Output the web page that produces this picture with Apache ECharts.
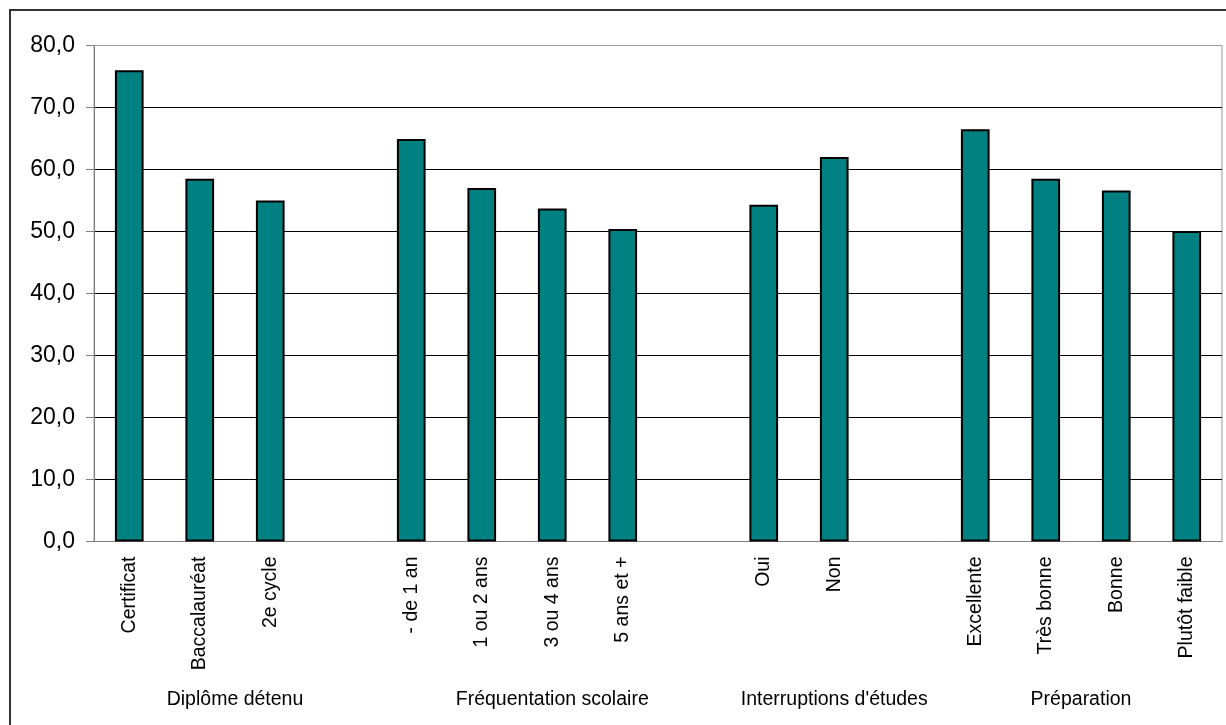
<!DOCTYPE html>
<html>
<head>
<meta charset="utf-8">
<script src="https://cdn.jsdelivr.net/npm/echarts@6/dist/echarts.min.js"></script>
<style>
html,body{margin:0;padding:0;background:#fff;}
#c{width:1226px;height:725px;}
</style>
</head>
<body>
<div id="c"></div>
<script>
const categories = ['Certificat','Baccalauréat','2e cycle','','- de 1 an','1 ou 2 ans','3 ou 4 ans','5 ans et +','','Oui','Non','','Excellente','Très bonne','Bonne','Plutôt faible'];
const values = [76.0, 58.5, 55.0, null, 64.9, 57.0, 53.7, 50.4, null, 54.3, 62.0, null, 66.5, 58.5, 56.6, 50.1];
const groupNames = ['Diplôme détenu', 'Fréquentation scolaire', "Interruptions d'études", 'Préparation'];
const groupSizes = [4, 5, 3, 4];

const groupCenters = [];
let acc = 0;
groupSizes.forEach(function (s) { groupCenters.push(acc + s / 2); acc += s; });

const chart = echarts.init(document.getElementById('c'));
const font = 'Liberation Sans, Arial, sans-serif';
chart.setOption({
  animation: false,
  backgroundColor: '#fff',
  graphic: [{
    type: 'rect',
    shape: { x: 10, y: 10, width: 1240, height: 740 },
    style: { fill: null, stroke: '#333', lineWidth: 2 },
    silent: true,
    z: 100
  }],
  grid: {
    left: 94, right: 4, top: 45.5, bottom: 183.5,
    show: true, borderColor: '#9a9a9a', borderWidth: 1,
    containLabel: false
  },
  xAxis: [{
    type: 'category',
    data: categories,
    axisTick: { show: false },
    axisLine: { show: true, lineStyle: { color: '#808080', width: 1 } },
    axisLabel: { rotate: 90, interval: 0, margin: 15, fontSize: 19.5, color: '#000', fontFamily: font },
    splitLine: { show: false }
  }, {
    type: 'value',
    min: 0, max: acc,
    position: 'bottom',
    axisLine: { show: false },
    axisTick: { show: false },
    splitLine: { show: false },
    axisLabel: {
      customValues: groupCenters,
      margin: 148,
      fontSize: 19.5, color: '#000', fontFamily: font,
      formatter: function (v) {
        const i = groupCenters.indexOf(v);
        return i >= 0 ? groupNames[i] : '';
      }
    }
  }],
  yAxis: {
    type: 'value',
    min: 0, max: 80, interval: 10,
    axisLine: { show: true, lineStyle: { color: '#808080', width: 1 } },
    axisTick: { show: true, inside: false, length: 8, lineStyle: { color: '#808080' } },
    axisLabel: {
      margin: 19, fontSize: 23, color: '#000', fontFamily: font,
      formatter: function (v) { return v.toFixed(1).replace('.', ','); }
    },
    splitLine: { show: true, showMinLine: false, showMaxLine: false, lineStyle: { color: '#000', width: 1 } }
  },
  series: [{
    type: 'bar',
    data: values,
    barWidth: '40.7%',
    itemStyle: { color: '#008080', borderColor: '#000', borderWidth: 2 }
  }]
});
</script>
</body>
</html>
